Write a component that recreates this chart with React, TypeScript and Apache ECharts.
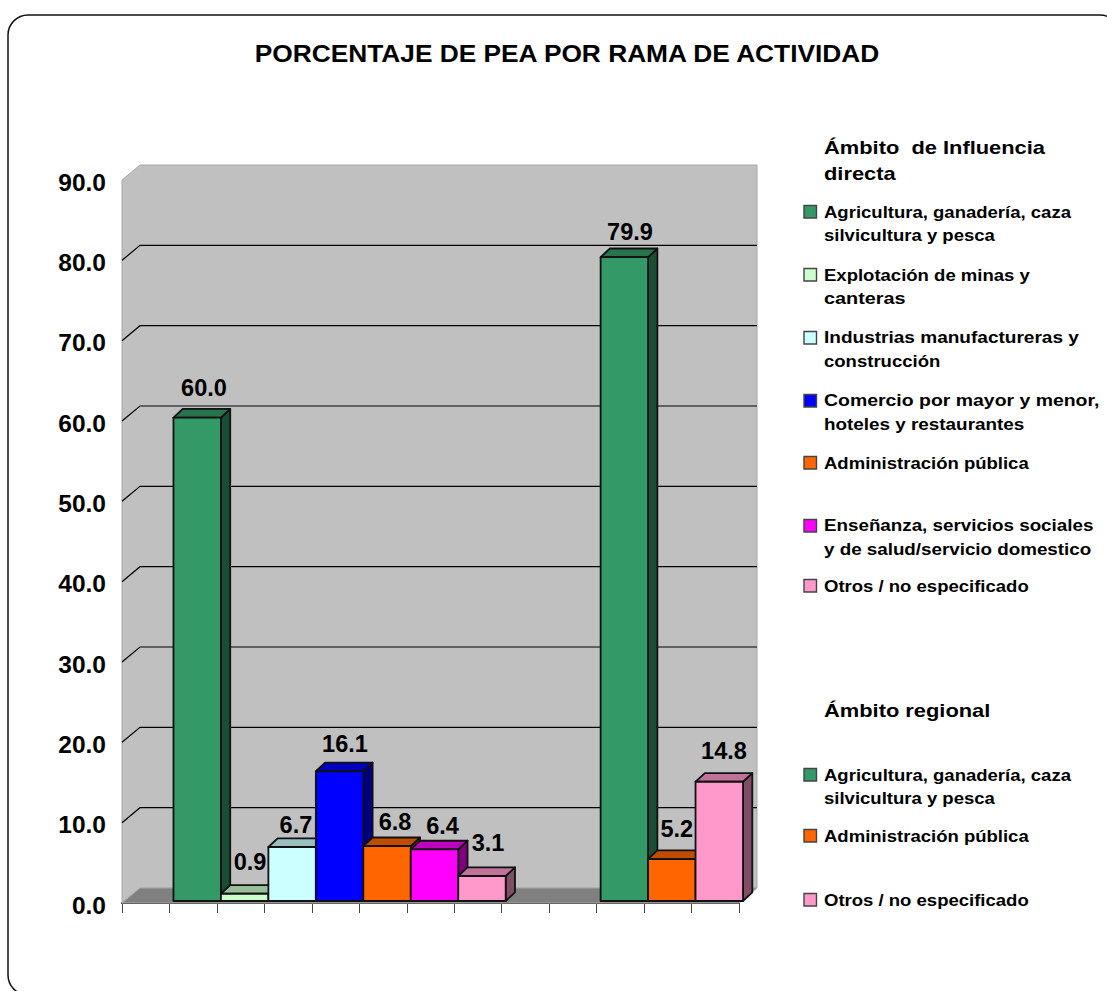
import React, { useEffect, useRef } from "react";
import * as echarts from "echarts";

const TITLE = "PORCENTAJE DE PEA POR RAMA DE ACTIVIDAD";
const FONT = "'Liberation Sans', Arial, sans-serif";

const yTicks = [0, 10, 20, 30, 40, 50, 60, 70, 80, 90];
const categories = ["", "a1", "a2", "a3", "a4", "a5", "a6", "a7", "", "", "b1", "b2", "b3"];

const colorGreen = "#339966";
const colorMint = "#CCFFCC";
const colorCyan = "#CCFFFF";
const colorBlue = "#0000FF";
const colorOrange = "#FF6600";
const colorMagenta = "#FF00FF";
const colorPink = "#FF99CC";

const directValues = [60.0, 0.9, 6.7, 16.1, 6.8, 6.4, 3.1];
const directColors = [colorGreen, colorMint, colorCyan, colorBlue, colorOrange, colorMagenta, colorPink];
const regionalValues = [79.9, 5.2, 14.8];
const regionalColors = [colorGreen, colorOrange, colorPink];

const headingDirect = ["Ámbito  de Influencia", "directa"];
const headingRegional = ["Ámbito regional"];
const legendDirect = [
  ["Agricultura, ganadería, caza", "silvicultura y pesca"],
  ["Explotación de minas y", "canteras"],
  ["Industrias manufactureras y", "construcción"],
  ["Comercio por mayor y menor,", "hoteles y restaurantes"],
  ["Administración pública"],
  ["Enseñanza, servicios sociales", "y de salud/servicio domestico"],
  ["Otros / no especificado"],
];
const legendRegional = [
  ["Agricultura, ganadería, caza", "silvicultura y pesca"],
  ["Administración pública"],
  ["Otros / no especificado"],
];
// layout only: first-line centre of each legend block
const legendDirectY = [212, 275, 338, 401, 463, 526, 586];
const legendRegionalY = [775, 836, 900];
// layout only: horizontal stretch of lines that run wider than the common one
const legendStretch: Record<string, number> = {
  "Industrias manufactureras y": 1.19,
  "Comercio por mayor y menor,": 1.215,
  "hoteles y restaurantes": 1.18,
  "Enseñanza, servicios sociales": 1.175,
  "y de salud/servicio domestico": 1.175,
  canteras: 1.24,
};
// layout only: data-label placement relative to the top of each bar, in bar order
const labelNudgeX = [10.8, 9.3, 7.8, 9.4, 12, 12, 10, 9.6, 9, 8.7];
const labelNudgeY = [-33, -33.8, -24, -29.7, -26.4, -25.6, -35, -29, -32, -33];

const GRID = { left: 122, right: 739, top: 180, bottom: 903 };
const WALL = { dx: 18, dy: -15 };
const BAR = { dx: 4, dy: -2, depthX: 9.3, depthY: -8.7, stretch: 1.003 };
const EDGE = "#111111";

function shade(hex: string, f: number) {
  const n = parseInt(hex.slice(1), 16);
  const c = [(n >> 16) & 255, (n >> 8) & 255, n & 255].map((v) => Math.round(v * f));
  return `rgb(${c[0]},${c[1]},${c[2]})`;
}

const bars = [
  ...directValues.map((v, i) => ({ value: [i + 1, v], color: directColors[i] })),
  ...regionalValues.map((v, i) => ({ value: [i + 10, v], color: regionalColors[i] })),
];

function legendGraphics() {
  const out: any[] = [];
  const LX = 824;
  const line = (text: string, y: number, size: number, sx: number) => ({
    type: "text",
    x: LX,
    y,
    scaleX: sx,
    style: { text, fill: "#000", font: `bold ${size}px ${FONT}`, verticalAlign: "middle" },
  });
  const block = (rows: string[][], ys: number[], colors: string[]) => {
    rows.forEach((r, i) => {
      out.push({
        type: "rect",
        shape: { x: 804, y: ys[i] - 6.5, width: 12.5, height: 12.5 },
        style: { fill: colors[i], stroke: "#444", lineWidth: 1.4 },
      });
      r.forEach((t, k) => out.push(line(t, ys[i] + k * 23.5, 16, legendStretch[t] ?? 1.158)));
    });
  };
  headingDirect.forEach((t, k) => out.push(line(t, 147 + k * 26, 19, 1.151)));
  headingRegional.forEach((t) => out.push(line(t, 710, 19, 1.151)));
  block(legendDirect, legendDirectY, directColors);
  block(legendRegional, legendRegionalY, regionalColors);
  return out;
}

export default function App() {
  const ref = useRef<HTMLDivElement>(null);
  useEffect(() => {
    document.body.style.margin = "0";
    const chart = echarts.init(ref.current!, null, { renderer: "svg", width: 1107, height: 991 });
    const option: any = {
      animation: false,
      backgroundColor: "#ffffff",
      grid: { left: GRID.left, top: GRID.top, width: GRID.right - GRID.left, height: GRID.bottom - GRID.top },
      xAxis: {
        type: "category",
        data: categories,
        boundaryGap: true,
        axisLine: { show: true, lineStyle: { color: "#222", width: 2 } },
        axisTick: { show: true, alignWithLabel: false, interval: 0, length: 10, lineStyle: { color: "#444", width: 1 } },
        axisLabel: { show: false },
        splitLine: { show: false },
      },
      yAxis: {
        type: "value",
        min: 0,
        max: 90,
        interval: 10,
        axisLine: { show: false },
        axisTick: { show: false },
        splitLine: { show: false },
        axisLabel: {
          margin: 16,
          formatter: (v: number) => `{a|${v.toFixed(1)}}`,
          rich: {
            a: {
              padding: [4, 0, 0, 0],
              fontFamily: FONT,
              fontSize: 24.5,
              fontWeight: "bold",
              color: "#000",
            },
          },
        },
      },
      graphic: [
        {
          type: "group",
          silent: true,
          children: [
            {
              type: "rect",
              shape: { x: 8, y: 15, width: 1112, height: 980, r: 20 },
              style: { fill: "none", stroke: "#111", lineWidth: 1.5 },
            },
            {
              type: "text",
              x: 567,
              y: 53,
              scaleX: 1.096,
              style: { text: TITLE, fill: "#000", font: `bold 24px ${FONT}`, align: "center", verticalAlign: "middle" },
            },
            ...legendGraphics(),
          ],
        },
      ],
      series: [
        {
          type: "custom",
          coordinateSystem: "cartesian2d",
          clip: false,
          z: 1,
          silent: true,
          data: [yTicks[0]],
          encode: { x: -1, y: -1 },
          renderItem: (_p: any, api: any) => {
            const [x0, yB] = api.coord([0, 0]);
            const catW = api.size([1, 0])[0];
            const xL = x0 - catW / 2;
            const xR = xL + catW * categories.length;
            const yT = api.coord([0, 90])[1];
            const { dx, dy } = WALL;
            const children: any[] = [
              {
                type: "polygon",
                shape: { points: [[xL, yB], [xL, yT], [xL + dx, yT + dy], [xR + dx, yT + dy], [xR + dx, yB + dy], [xL + dx, yB + dy]] },
                style: { fill: "#C0C0C0", stroke: "#a8a8a8", lineWidth: 1 },
              },
              {
                type: "polygon",
                shape: { points: [[xL, yB], [xL + dx, yB + dy], [xR + dx, yB + dy], [xR, yB]] },
                style: { fill: "#808080", stroke: "#a8a8a8", lineWidth: 1 },
              },
            ];
            yTicks.slice(1, -1).forEach((t) => {
              const y = api.coord([0, t])[1];
              children.push({
                type: "polyline",
                shape: { points: [[xL, y], [xL + dx, y + dy], [xR + dx, y + dy]] },
                style: { fill: "none", stroke: "#000", lineWidth: 1.2 },
              });
            });
            return { type: "group", children };
          },
        },
        {
          type: "custom",
          coordinateSystem: "cartesian2d",
          clip: false,
          z: 2,
          silent: true,
          data: bars,
          encode: { x: 0, y: 1 },
          renderItem: (p: any, api: any) => {
            const b = bars[p.dataIndex];
            const catW = api.size([1, 0])[0];
            const [cx, yTop0] = api.coord([api.value(0), api.value(1)]);
            const [, yBase0] = api.coord([api.value(0), 0]);
            const l = cx - catW / 2 + BAR.dx;
            const r = cx + catW / 2 + BAR.dx;
            const bt = yBase0 + BAR.dy;
            const t = bt - (yBase0 - yTop0) * BAR.stretch;
            const { depthX: dx, depthY: dy } = BAR;
            const st = { stroke: EDGE, lineWidth: 1.8, lineJoin: "round" };
            return {
              type: "group",
              children: [
                { type: "polygon", shape: { points: [[r, t], [r + dx, t + dy], [r + dx, bt + dy], [r, bt]] }, style: { ...st, fill: shade(b.color, 0.5) } },
                { type: "polygon", shape: { points: [[l, t], [l + dx, t + dy], [r + dx, t + dy], [r, t]] }, style: { ...st, fill: shade(b.color, 0.75) } },
                { type: "rect", shape: { x: l, y: t, width: r - l, height: bt - t }, style: { ...st, fill: b.color } },
              ],
            };
          },
        },
        {
          type: "custom",
          coordinateSystem: "cartesian2d",
          clip: false,
          z: 3,
          silent: true,
          data: bars,
          encode: { x: 0, y: 1 },
          renderItem: (p: any, api: any) => {
            const [cx, y] = api.coord([api.value(0), api.value(1)]);
            return {
              type: "text",
              x: cx + labelNudgeX[p.dataIndex],
              y: y + labelNudgeY[p.dataIndex],
              style: {
                text: api.value(1).toFixed(1),
                font: `bold 23.5px ${FONT}`,
                fill: "#000",
                align: "center",
                verticalAlign: "middle",
              },
            };
          },
        },
      ],
    };
    chart.setOption(option);
    return () => chart.dispose();
  }, []);
  return <div ref={ref} style={{ width: 1107, height: 991 }} />;
}
